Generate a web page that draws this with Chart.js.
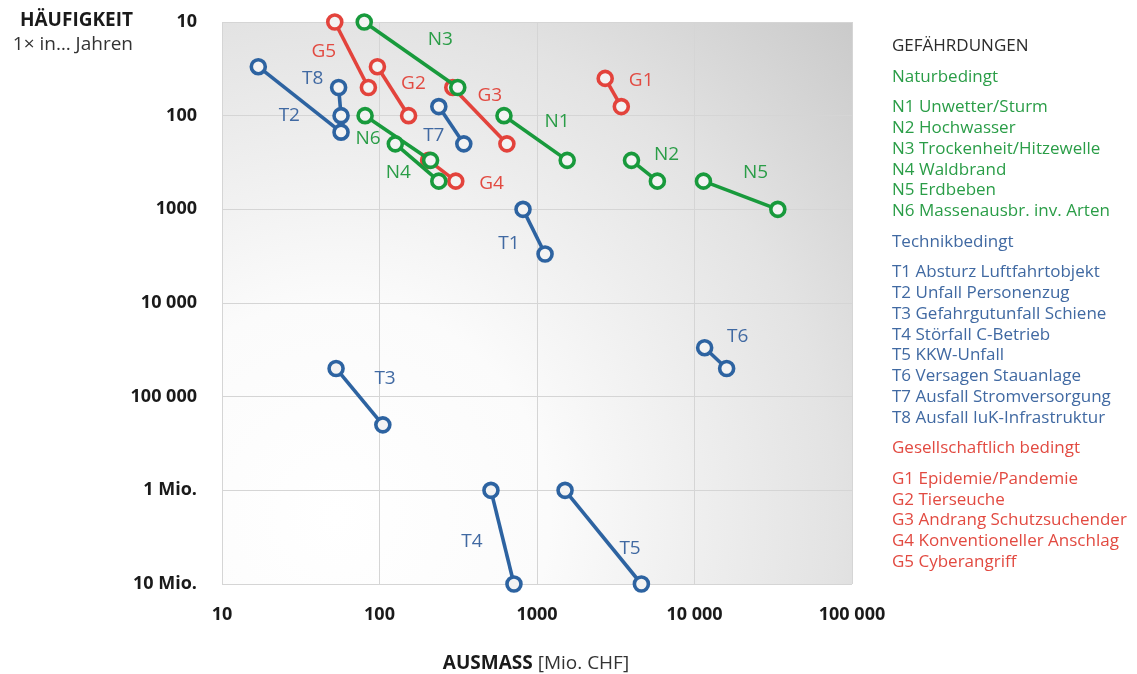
<!DOCTYPE html>
<html><head><meta charset="utf-8">
<script src="https://cdn.jsdelivr.net/npm/chart.js@4.4.0/dist/chart.umd.min.js"></script>
<style>
html,body{margin:0;padding:0;background:#fff;}
#wrap{position:relative;width:1137px;height:674px;}
canvas{position:absolute;left:0;top:0;}
</style></head><body>
<div id="wrap"><canvas id="c" width="1137" height="674"></canvas></div>
<script>
// ---- Tick values & labels ----
const xTickValues = [10, 100, 1000, 10000, 100000];
const xTickLabels = ['10', '100', '1000', '10 000', '100 000'];
const yTickValues = [10, 100, 1000, 10000, 100000, 1000000, 10000000];
const yTickLabels = ['10', '100', '1000', '10 000', '100 000', '1 Mio.', '10 Mio.'];

// ---- Hazards: id, group, damage (Mio. CHF) low/high scenario, frequency (1x in ... years) ----
const hazardIds    = ['N1','N2','N3','N4','N5','N6','T1','T2','T3','T4','T5','T6','T7','T8','G1','G2','G3','G4','G5'];
const hazardGroup  = ['N','N','N','N','N','N','T','T','T','T','T','T','T','T','G','G','G','G','G'];
const damageFrom   = [617, 3980, 80, 126, 11400, 81, 815, 17, 53, 510, 1507, 11600, 238, 55, 2710, 97, 292, 205, 52];
const damageTo     = [1555, 5810, 314, 238, 33800, 211, 1125, 57, 105, 714, 4600, 16000, 343, 57, 3430, 153, 644, 305, 85];
const freqFrom     = [100, 300, 10, 200, 500, 100, 1000, 30, 50000, 1000000, 1000000, 30000, 80, 50, 40, 30, 50, 300, 10];
const freqTo       = [300, 500, 50, 500, 1000, 300, 3000, 150, 200000, 10000000, 10000000, 50000, 200, 100, 80, 100, 200, 500, 50];

// ---- Legend texts ----
const legendTitle = 'GEFÄHRDUNGEN';
const groupNames = {N: 'Naturbedingt', T: 'Technikbedingt', G: 'Gesellschaftlich bedingt'};
const naturItems = ['N1 Unwetter/Sturm','N2 Hochwasser','N3 Trockenheit/Hitzewelle','N4 Waldbrand','N5 Erdbeben','N6 Massenausbr. inv. Arten'];
const technikItems = ['T1 Absturz Luftfahrtobjekt','T2 Unfall Personenzug','T3 Gefahrgutunfall Schiene','T4 Störfall C-Betrieb','T5 KKW-Unfall','T6 Versagen Stauanlage','T7 Ausfall Stromversorgung','T8 Ausfall IuK-Infrastruktur'];
const gesellItems = ['G1 Epidemie/Pandemie','G2 Tierseuche','G3 Andrang Schutzsuchender','G4 Konventioneller Anschlag','G5 Cyberangriff'];

// ---- Styles ----
const markColor = {N: '#189a3c', T: '#2d63a1', G: '#e3433c'};
const textColor = {N: '#2a9d47', T: '#4069a2', G: '#e24a41'};
// label offsets (px) relative to the first point of each hazard
const labelOffset = {
  N1:[53,6], N2:[35,-6], N3:[76,18], N4:[3,29], N5:[52,-9], N6:[3,23],
  T1:[-14,34], T2:[31,49], T3:[49,10], T4:[-19,51], T5:[65,58], T6:[33,-11], T7:[-5,29], T8:[-26,-9],
  G1:[36,2], G2:[36,17], G3:[37,8], G4:[63,23], G5:[-11,30]
};
const FONT = "'Open Sans', 'Noto Sans', sans-serif";

const datasets = hazardIds.map((id, i) => {
  const c = markColor[hazardGroup[i]];
  return {
    label: id,
    data: [{x: damageFrom[i], y: freqFrom[i]}, {x: damageTo[i], y: freqTo[i]}],
    borderColor: c,
    borderWidth: 3.6,
    pointRadius: 7,
    pointHoverRadius: 7,
    pointBorderWidth: 3.6,
    pointBorderColor: c,
    pointBackgroundColor: '#f3f3f3',
    clip: false,
    tension: 0
  };
});

const bgPlugin = {
  id: 'bg',
  beforeDraw(chart) {
    const {ctx, chartArea: a} = chart;
    const cx = a.left + (a.right - a.left) * 0.18, cy = a.bottom - (a.bottom - a.top) * 0.12;
    const r = Math.hypot(a.right - cx, a.top - cy);
    const g = ctx.createRadialGradient(cx, cy, 0, cx, cy, r);
    g.addColorStop(0, '#ffffff');
    g.addColorStop(0.3, '#fbfbfb');
    g.addColorStop(0.7, '#e3e3e3');
    g.addColorStop(1, '#cacaca');
    ctx.save();
    ctx.fillStyle = g;
    ctx.fillRect(a.left, a.top, a.right - a.left, a.bottom - a.top);
    ctx.restore();
  }
};

const labelPlugin = {
  id: 'labels',
  afterDatasetsDraw(chart) {
    const ctx = chart.ctx;
    ctx.save();
    ctx.font = "19px " + FONT;
    ctx.textAlign = 'center';
    ctx.textBaseline = 'middle';
    chart.data.datasets.forEach((ds, i) => {
      const p = chart.getDatasetMeta(i).data[0];
      const off = labelOffset[ds.label];
      ctx.fillStyle = textColor[hazardGroup[i]];
      ctx.fillText(ds.label, p.x + off[0], p.y + off[1]);
    });
    ctx.restore();
  }
};

const textPlugin = {
  id: 'texts',
  afterDraw(chart) {
    const ctx = chart.ctx;
    ctx.save();
    ctx.textBaseline = 'middle';
    // y title
    ctx.textAlign = 'right';
    ctx.fillStyle = '#1a1a1a';
    ctx.font = "bold 19px " + FONT;
    ctx.fillText('HÄUFIGKEIT', 133, 21);
    ctx.font = "19px " + FONT;
    ctx.fillStyle = '#333';
    ctx.fillText('1× in… Jahren', 133, 45);
    // x title
    ctx.textAlign = 'left';
    ctx.font = "bold 19px " + FONT;
    const t1 = 'AUSMASS';
    const w1 = ctx.measureText(t1).width;
    ctx.font = "19px " + FONT;
    const t2 = ' [Mio. CHF]';
    const w2 = ctx.measureText(t2).width;
    const x0 = 536 - (w1 + w2) / 2;
    ctx.font = "bold 19px " + FONT;
    ctx.fillStyle = '#1a1a1a';
    ctx.fillText(t1, x0, 664);
    ctx.font = "19px " + FONT;
    ctx.fillStyle = '#333';
    ctx.fillText(t2, x0 + w1, 664);
    // legend
    const lx = 892;
    const lh = 20.75;
    ctx.font = "17px " + FONT;
    ctx.fillStyle = '#2b2b2b';
    ctx.fillText(legendTitle, lx, 46);
    let y = 77;
    const groups = [['N', naturItems], ['T', technikItems], ['G', gesellItems]];
    groups.forEach(([g, items]) => {
      ctx.fillStyle = textColor[g];
      ctx.fillText(groupNames[g], lx, y);
      y += 30.5;
      items.forEach(t => { ctx.fillText(t, lx, y); y += lh; });
      y += 10;
    });
    ctx.restore();
  }
};

new Chart(document.getElementById('c'), {
  type: 'line',
  data: {datasets},
  options: {
    responsive: false,
    animation: false,
    events: [],
    layout: {padding: {left: 0, top: 22, right: 285, bottom: 0}},
    plugins: {legend: {display: false}, tooltip: {enabled: false}},
    scales: {
      x: {
        type: 'logarithmic', min: 10, max: 100000,
        afterBuildTicks: s => { s.ticks = xTickValues.map(v => ({value: v})); },
        afterFit: s => { s.height = 90; },
        grid: {color: '#d5d5d5', lineWidth: 1, drawTicks: true, tickLength: 18, tickColor: 'rgba(0,0,0,0)'},
        border: {display: false},
        ticks: {
          autoSkip: false, maxRotation: 0, padding: 2,
          font: {family: FONT, size: 18, weight: 'bold'}, color: '#1a1a1a',
          callback: v => xTickLabels[xTickValues.indexOf(v)]
        }
      },
      y: {
        type: 'logarithmic', reverse: true, min: 10, max: 10000000,
        afterBuildTicks: s => { s.ticks = yTickValues.map(v => ({value: v})); },
        afterFit: s => { s.width = 222; },
        grid: {color: '#d5d5d5', lineWidth: 1, drawTicks: true, tickLength: 23, tickColor: 'rgba(0,0,0,0)'},
        border: {display: false},
        ticks: {
          autoSkip: false, padding: 2,
          font: {family: FONT, size: 18, weight: 'bold'}, color: '#1a1a1a',
          callback: v => yTickLabels[yTickValues.indexOf(v)]
        }
      }
    }
  },
  plugins: [bgPlugin, labelPlugin, textPlugin]
});
</script>
</body></html>
